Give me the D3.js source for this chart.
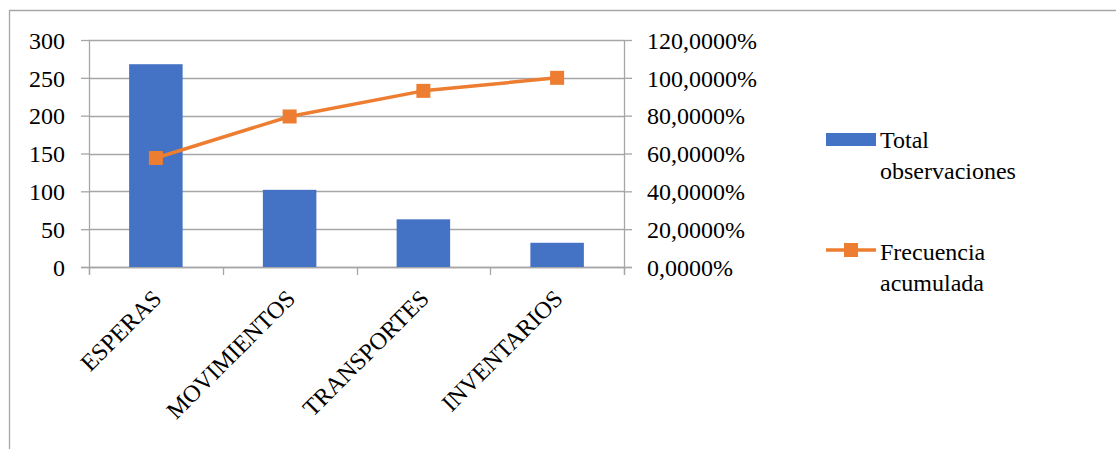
<!DOCTYPE html>
<html>
<head>
<meta charset="utf-8">
<script src="https://cdn.jsdelivr.net/npm/d3@7"></script>
<style>
    body { margin: 0; background: #fff; }
</style>
</head>
<body>
<div id="chart"></div>
<script>
// Data
const categories = ['ESPERAS', 'MOVIMIENTOS', 'TRANSPORTES', 'INVENTARIOS'];
const observaciones = [268, 102, 63, 32];
const acumulada = [0.5763, 0.7957, 0.9312, 1.0];
const leftTicks = [0, 50, 100, 150, 200, 250, 300];
const rightTicks = [0, 0.2, 0.4, 0.6, 0.8, 1.0, 1.2];
const legendLabels = [['Total', 'observaciones'], ['Frecuencia', 'acumulada']];

const width = 1116, height = 449;
const margin = [40, 182, 89, 492]; // top, bottom, left, right
const blue = '#4472C4', orange = '#ED7D31', grid = '#a6a6a6';
const font = 'Times New Roman, Tinos, Liberation Serif, serif';

const serif = sel => sel
    .attr('font-family', font)
    .attr('font-size', 24);

const svg = d3.select('#chart')
    .append('svg')
    .attr('width', width)
    .attr('height', height)
    .attr('font-family', font);

// Frame (only top and left edges are visible)
svg.append('path')
    .attr('d', `M9.5,${height} V10.5 H${width}`)
    .attr('fill', 'none')
    .attr('stroke', grid)
    .attr('stroke-width', 1.3);

const plotW = width - margin[2] - margin[3];
const plotH = height - margin[0] - margin[1];

const x = d3.scaleBand()
    .domain(categories)
    .range([0, plotW]);

const yLeft = d3.scaleLinear().domain([0, 300]).range([plotH, 0]);
const yRight = d3.scaleLinear().domain([0, 1.2]).range([plotH, 0]);

const chart = svg.append('g')
    .attr('transform', `translate(${margin[2]}, ${margin[0]})`);

// Gridlines
chart.append('g')
    .selectAll('line')
    .data(leftTicks)
    .join('line')
    .attr('x1', 0)
    .attr('x2', plotW)
    .attr('y1', d => Math.round(yLeft(d)) + 0.5)
    .attr('y2', d => Math.round(yLeft(d)) + 0.5)
    .attr('stroke', grid)
    .attr('stroke-width', 1.3);

// Axes
const fmtPct = d => d3.format('.4f')(d * 100).replace('.', ',') + '%';

const axisLeft = chart.append('g')
    .call(d3.axisLeft(yLeft).tickValues(leftTicks).tickSize(8).tickPadding(16));
const axisRight = chart.append('g')
    .attr('transform', `translate(${plotW}, 0)`)
    .call(d3.axisRight(yRight).tickValues(rightTicks).tickSize(8).tickPadding(15).tickFormat(fmtPct));

[axisLeft, axisRight].forEach(a => {
    a.attr('font-family', font).attr('font-size', 24);
    a.select('.domain').remove();
    a.selectAll('.tick line').attr('stroke', grid).attr('stroke-width', 1.3);
    a.selectAll('text').call(serif).attr('fill', '#000').attr('dy', '0.34em');
});

// bottom axis: ticks sit between categories, like Excel
chart.append('g')
    .selectAll('line')
    .data(d3.range(categories.length + 1))
    .join('line')
    .attr('x1', i => Math.round(i * x.step()) + 0.5)
    .attr('x2', i => Math.round(i * x.step()) + 0.5)
    .attr('y1', plotH)
    .attr('y2', plotH + 8)
    .attr('stroke', grid)
    .attr('stroke-width', 1.3);

// axis lines
chart.append('line')
    .attr('x1', 0.5).attr('x2', 0.5).attr('y1', 0).attr('y2', plotH + 8)
    .attr('stroke', grid).attr('stroke-width', 1.3);
chart.append('line')
    .attr('x1', plotW + 0.5).attr('x2', plotW + 0.5).attr('y1', 0).attr('y2', plotH + 8)
    .attr('stroke', grid).attr('stroke-width', 1.3);
chart.append('line')
    .attr('x1', -8).attr('x2', plotW + 8).attr('y1', plotH + 0.5).attr('y2', plotH + 0.5)
    .attr('stroke', grid).attr('stroke-width', 1.3);

// Category labels, rotated
chart.append('g')
    .selectAll('text')
    .data(categories)
    .join('text')
    .attr('transform', d => `translate(${x(d) + x.bandwidth() / 2 + 7}, ${plotH + 33}) rotate(-45)`)
    .attr('text-anchor', 'end')
    .call(serif)
    .text(d => d);

// Bars
const barW = x.bandwidth() * 0.4;
chart.append('g')
    .selectAll('rect')
    .data(observaciones)
    .join('rect')
    .attr('x', (d, i) => x(categories[i]) + (x.bandwidth() - barW) / 2)
    .attr('y', d => yLeft(d))
    .attr('width', barW)
    .attr('height', d => plotH - yLeft(d))
    .attr('fill', blue);

// Cumulative line
const line = d3.line()
    .x((d, i) => x(categories[i]) + x.bandwidth() / 2)
    .y(d => yRight(d));

chart.append('path')
    .datum(acumulada)
    .attr('d', line)
    .attr('fill', 'none')
    .attr('stroke', orange)
    .attr('stroke-width', 3.5)
    .attr('stroke-linejoin', 'round');

const mk = 14;
chart.append('g')
    .selectAll('rect')
    .data(acumulada)
    .join('rect')
    .attr('x', (d, i) => x(categories[i]) + x.bandwidth() / 2 - mk / 2)
    .attr('y', d => yRight(d) - mk / 2)
    .attr('width', mk)
    .attr('height', mk)
    .attr('fill', orange);

// Legend
const legend = svg.append('g').attr('transform', 'translate(826, 0)');

legend.append('rect')
    .attr('x', 0).attr('y', 133).attr('width', 50).attr('height', 13)
    .attr('fill', blue);

legend.append('line')
    .attr('x1', 0).attr('x2', 50).attr('y1', 250).attr('y2', 250)
    .attr('stroke', orange).attr('stroke-width', 3.5);
legend.append('rect')
    .attr('x', 25 - mk / 2).attr('y', 250 - mk / 2).attr('width', mk).attr('height', mk)
    .attr('fill', orange);

const legendY = [148, 260];
legendLabels.forEach((lines, i) => {
    const t = legend.append('text')
        .attr('x', 54)
        .attr('y', legendY[i])
        .call(serif);
    lines.forEach((s, j) => {
        t.append('tspan')
            .attr('x', 54)
            .attr('dy', j === 0 ? 0 : 30.5)
            .text(s);
    });
});
</script>
</body>
</html>
